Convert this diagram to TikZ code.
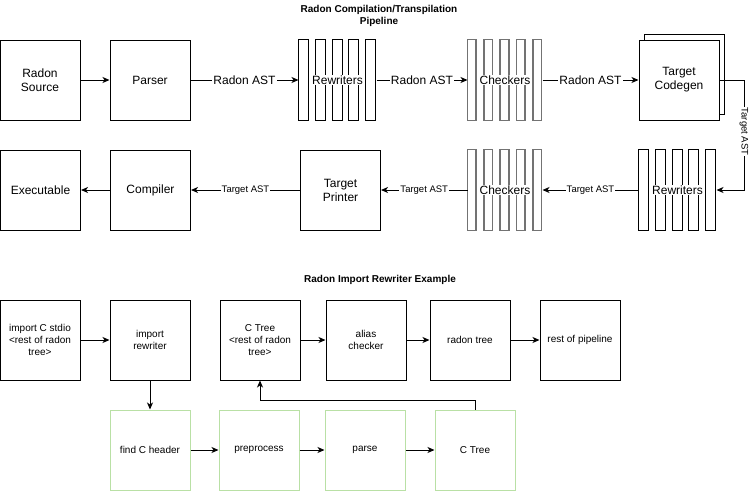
\documentclass[tikz,border=0pt]{standalone}
\usepackage{fontspec}
\setmainfont{Liberation Sans}
\usetikzlibrary{arrows.meta}
\definecolor{grn}{HTML}{B9E0A5}
\definecolor{chk}{HTML}{737373}
\newcommand{\stripebox}[4]{%
  \foreach \i in {0,...,4}{%
    \draw[#4] ([xshift=\i*#3 pt]#1.north west) rectangle ([xshift=\i*#3 pt + #2 pt]#1.south west);%
  }}
\begin{document}
\begin{tikzpicture}[x=1pt,y=-1pt,line width=1pt,
  box/.style={draw, fill=white, minimum width=80pt, minimum height=80pt, inner sep=0pt, align=center, font=\fontsize{12}{14}\selectfont},
  sbox/.style={box, font=\fontsize{10}{12}\selectfont},
  gbox/.style={sbox, draw=grn},
  frame/.style={minimum height=80pt, inner sep=0pt},
  arr/.style={-{Stealth[length=7pt,width=6pt,inset=2pt]}},
  lab/.style={fill=white, inner sep=1pt, font=\fontsize{12}{14}\selectfont},
  slab/.style={fill=white, inner sep=1pt, font=\fontsize{9.5}{11}\selectfont},
  ttl/.style={font=\bfseries\fontsize{10}{12}\selectfont, align=center},
  rstripe/.style={draw, fill=white},
  cstripe/.style={draw=chk, fill=white, line width=1.7pt}]
\useasboundingbox (0,0) rectangle (753,491);

% titles
\node[ttl] (t1) at (379,16) {Radon Compilation/Transpilation\\Pipeline};
\node[ttl] (t2) at (380,280) {Radon Import Rewriter Example};

% row 1
\node[box] (src) at (40,80) {Radon\\Source};
\node[box] (parser) at (150,80) {Parser};
\node[frame, minimum width=77pt] (rw1) at (337.5,80) {};
\stripebox{rw1}{10}{16.75}{rstripe}
\node[lab] (rw1l) at (rw1) {Rewriters};
\node[frame, minimum width=74pt] (ch1) at (505,80) {};
\stripebox{ch1}{8.5}{16.375}{cstripe}
\node[lab] (ch1l) at (ch1) {Checkers};
\draw[fill=white] (644,34) rectangle (724,114);
\node[box] (cg) at (679,80) {Target\\Codegen};

% row 2
\node[box] (exe) at (40.5,190) {Executable};
\node[box] (comp) at (150.5,190) {Compiler};
\node[box] (tp) at (340.5,190) {Target\\Printer};
\node[frame, minimum width=74pt] (ch2) at (505,190) {};
\stripebox{ch2}{8.5}{16.375}{cstripe}
\node[lab] (ch2l) at (ch2) {Checkers};
\node[frame, minimum width=77pt] (rw2) at (677.5,190) {};
\stripebox{rw2}{10}{16.75}{rstripe}
\node[lab] (rw2l) at (rw2) {Rewriters};

% row 1 edges
\draw[arr] (src) -- (parser);
\draw[arr] (parser) -- node[lab]{Radon AST} (rw1);
\draw[arr] (rw1) -- node[lab]{Radon AST} (ch1);
\draw[arr] (ch1) -- node[lab]{Radon AST} (cg);
\coordinate (c1) at (744,80);
\coordinate (c2) at (744,190);
\draw[arr] (cg.east) -- (c1) -- node[slab, rotate=-90, pos=0.47]{Target AST} (c2) -- (rw2.east);

% row 2 edges
\draw[arr] (rw2) -- node[slab]{Target AST} (ch2);
\draw[arr] (ch2) -- node[slab]{Target AST} (tp);
\draw[arr] (tp) -- node[slab]{Target AST} (comp);
\draw[arr] (comp) -- (exe);

% row 3
\node[sbox] (imp) at (40,340) {import C stdio\\<rest of radon\\tree>};
\node[sbox] (ir) at (150,340) {import\\rewriter};
\node[sbox] (ct) at (260,340) {C Tree\\<rest of radon\\tree>};
\node[sbox] (ac) at (366,340) {alias\\checker};
\node[sbox] (rt) at (470,340) {radon tree};
\node[sbox] (rp) at (580,340) {rest of pipeline};

% row 4
\node[gbox] (fh) at (150,450) {find C header};
\node[gbox] (pp) at (259,450) {preprocess};
\node[gbox] (pa) at (365,450) {parse};
\node[gbox] (ct2) at (475,450) {C Tree};

% row 3/4 edges
\draw[arr] (imp) -- (ir);
\draw[arr] (ct) -- (ac);
\draw[arr] (ac) -- (rt);
\draw[arr] (rt) -- (rp);
\draw[arr] (ir) -- (fh);
\draw[arr] (fh) -- (pp);
\draw[arr] (pp) -- (pa);
\draw[arr] (pa) -- (ct2);
\coordinate (d1) at (475,400);
\coordinate (d2) at (260,400);
\draw[arr] (ct2.north) -- (d1) -- (d2) -- (ct.south);
\end{tikzpicture}
\end{document}
